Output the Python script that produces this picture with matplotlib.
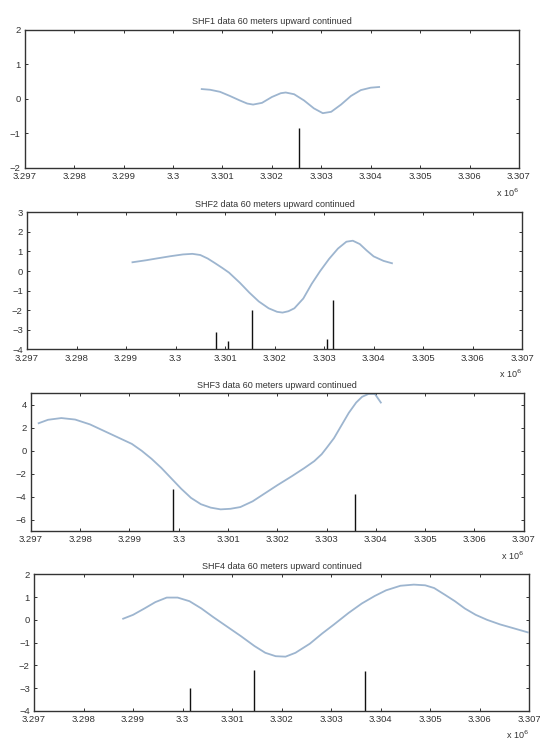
import numpy as np
import matplotlib
matplotlib.use("Agg")
import matplotlib.pyplot as plt

plt.rcParams['font.family'] = ['Liberation Sans', 'DejaVu Sans']

# x positions in units of 10^6 m
x_ticks = [3.297, 3.298, 3.299, 3.3, 3.301, 3.302, 3.303, 3.304, 3.305, 3.306, 3.307]

titles = ["SHF1 data 60 meters upward continued",
          "SHF2 data 60 meters upward continued",
          "SHF3 data 60 meters upward continued",
          "SHF4 data 60 meters upward continued"]

# SHF1
shf1_x = [3.30058, 3.30075, 3.30095, 3.30115, 3.30135, 3.30150, 3.30162, 3.30180,
          3.30200, 3.30218, 3.30228, 3.30245, 3.30265, 3.30285, 3.30303, 3.30320,
          3.30340, 3.30360, 3.30380, 3.30400, 3.30417]
shf1_y = [0.28, 0.26, 0.20, 0.08, -0.05, -0.14, -0.17, -0.12,
          0.05, 0.16, 0.18, 0.13, -0.05, -0.28, -0.42, -0.38,
          -0.17, 0.08, 0.25, 0.32, 0.34]
shf1_stem_x = [3.30254]
shf1_stem_y = [-0.85]

# SHF2
shf2_x = [3.29913, 3.29940, 3.29961, 3.29990, 3.30015, 3.30034, 3.30050, 3.30065,
          3.30080, 3.30095, 3.30108, 3.30130, 3.30149, 3.30168, 3.30188, 3.30205,
          3.30216, 3.30228, 3.30240, 3.30258, 3.30275, 3.30292, 3.30310, 3.30328,
          3.30345, 3.30358, 3.30372, 3.30386, 3.30400, 3.30420, 3.30437]
shf2_y = [0.45, 0.55, 0.64, 0.76, 0.85, 0.88, 0.82, 0.64,
          0.40, 0.15, -0.08, -0.60, -1.10, -1.55, -1.90, -2.08,
          -2.12, -2.05, -1.90, -1.40, -0.65, 0.00, 0.62, 1.15,
          1.50, 1.55, 1.38, 1.05, 0.75, 0.52, 0.40]
shf2_stem_x = [3.30081, 3.30106, 3.30154, 3.30306, 3.30317]
shf2_stem_y = [-3.1, -3.55, -2.0, -3.45, -1.5]

# SHF3
shf3_x = [3.29716, 3.29735, 3.29762, 3.29790, 3.29820, 3.29845, 3.29875, 3.29905,
          3.29925, 3.29945, 3.29965, 3.29985, 3.30005, 3.30025, 3.30045, 3.30065,
          3.30085, 3.30105, 3.30125, 3.30150, 3.30175, 3.30200, 3.30230, 3.30255,
          3.30275, 3.30290, 3.30300, 3.30315, 3.30330, 3.30345, 3.30360, 3.30372,
          3.30385, 3.30398, 3.30410]
shf3_y = [2.40, 2.70, 2.85, 2.72, 2.30, 1.80, 1.20, 0.60,
          0.00, -0.70, -1.50, -2.40, -3.30, -4.10, -4.65, -4.95,
          -5.10, -5.05, -4.90, -4.40, -3.70, -3.00, -2.20, -1.50,
          -0.90, -0.30, 0.25, 1.10, 2.20, 3.30, 4.20, 4.70,
          4.95, 4.95, 4.20]
shf3_stem_x = [3.29988, 3.30357]
shf3_stem_y = [-3.3, -3.8]

# SHF4
shf4_x = [3.29880, 3.29900, 3.29923, 3.29945, 3.29968, 3.29990, 3.30014, 3.30038,
          3.30062, 3.30090, 3.30118, 3.30145, 3.30167, 3.30188, 3.30208, 3.30228,
          3.30257, 3.30282, 3.30306, 3.30335, 3.30362, 3.30388, 3.30411, 3.30440,
          3.30467, 3.30490, 3.30508, 3.30530, 3.30550, 3.30570, 3.30592, 3.30615,
          3.30641, 3.30670, 3.30697]
shf4_y = [0.05, 0.22, 0.50, 0.78, 0.98, 0.98, 0.82, 0.50,
          0.12, -0.30, -0.72, -1.15, -1.45, -1.60, -1.62, -1.45,
          -1.05, -0.60, -0.20, 0.30, 0.72, 1.05, 1.30, 1.50,
          1.55, 1.52, 1.40, 1.10, 0.82, 0.50, 0.22, 0.00,
          -0.20, -0.38, -0.55]
shf4_stem_x = [3.30016, 3.30144, 3.30368]
shf4_stem_y = [-3.0, -2.2, -2.25]

y_ticks = [[-2, -1, 0, 1, 2],
           [-4, -3, -2, -1, 0, 1, 2, 3],
           [-6, -4, -2, 0, 2, 4],
           [-4, -3, -2, -1, 0, 1, 2]]
y_limits = [(-2, 2), (-4, 3), (-7, 5), (-4, 2)]

curves = [(shf1_x, shf1_y), (shf2_x, shf2_y), (shf3_x, shf3_y), (shf4_x, shf4_y)]
stems = [(shf1_stem_x, shf1_stem_y), (shf2_stem_x, shf2_stem_y),
         (shf3_stem_x, shf3_stem_y), (shf4_stem_x, shf4_stem_y)]

# axes boxes (left, bottom, width, height) in figure fractions
boxes = [(0.046, 0.775, 0.915, 0.185),
         (0.050, 0.531, 0.917, 0.184),
         (0.057, 0.287, 0.913, 0.185),
         (0.063, 0.046, 0.917, 0.183)]

fig = plt.figure(figsize=(5.4, 7.45), dpi=100)

for i in range(4):
    ax = fig.add_axes(boxes[i])
    cx, cy = curves[i]
    ax.plot(cx, cy, color='#9db5cf', lw=1.3, solid_joinstyle='round')
    sx, sy = stems[i]
    ymin, ymax = y_limits[i]
    ml, sl, bl = ax.stem(sx, sy, bottom=ymin, markerfmt=' ', basefmt=' ')
    plt.setp(sl, color='#111111', lw=1.0)

    ax.set_xlim(x_ticks[0], x_ticks[-1])
    ax.set_ylim(ymin, ymax)
    ax.set_xticks(x_ticks)
    ax.set_xticklabels(['%g' % t for t in x_ticks])
    ax.set_yticks(y_ticks[i])
    ax.tick_params(direction='in', top=True, right=True, length=2.5, width=0.7,
                   labelsize=6.8, colors='#333333', pad=3)
    for sp in ax.spines.values():
        sp.set_linewidth(1.0)
        sp.set_color('#333333')
    ax.set_title(titles[i], fontsize=6.5, pad=4, color='#333333')
    ax.text(1.0, -0.18, r'x 10$^6$', transform=ax.transAxes, ha='right', va='center',
            fontsize=6.5, color='#333333')

fig.savefig('out.png', dpi=100)
